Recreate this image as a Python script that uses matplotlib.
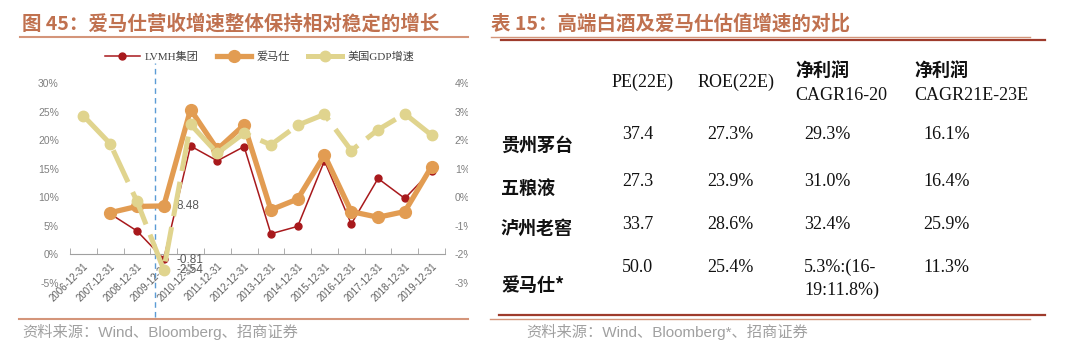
import matplotlib
matplotlib.use("Agg")
import matplotlib.pyplot as plt
import numpy as np
from matplotlib.lines import Line2D
from matplotlib.transforms import Bbox, TransformedBbox

# ---- chart data (left panel) ----
years = ['2006-12-31', '2007-12-31', '2008-12-31', '2009-12-31', '2010-12-31',
         '2011-12-31', '2012-12-31', '2013-12-31', '2014-12-31', '2015-12-31',
         '2016-12-31', '2017-12-31', '2018-12-31', '2019-12-31']
lvmh = [np.nan, 7.1, 4.1, -0.81, 19.0, 16.4, 18.9, 3.6, 4.9, 16.4, 5.3, 13.3, 9.8, 14.7]
hermes = [np.nan, 7.3, 8.4, 8.48, 25.4, 18.4, 22.7, 7.8, 9.7, 17.4, 7.5, 6.5, 7.5, 15.4]
us_gdp = [2.86, 1.88, -0.14, -2.54, 2.56, 1.55, 2.25, 1.84, 2.53, 2.91, 1.64, 2.37, 2.93, 2.18]
left_ticks = [-5, 0, 5, 10, 15, 20, 25, 30]
right_ticks = [-3, -2, -1, 0, 1, 2, 3, 4]
marked_idx = 3  # 2009, values written next to the points

# ---- table data (right panel) ----
col_heads = ['PE(22E)', 'ROE(22E)', '净利润\nCAGR16-20', '净利润\nCAGR21E-23E']
companies = ['贵州茅台', '五粮液', '泸州老窖', '爱马仕*']
pe = ['37.4', '27.3', '33.7', '50.0']
roe = ['27.3%', '23.9%', '28.6%', '25.4%']
cagr_16_20 = ['29.3%', '31.0%', '32.4%', '5.3%:(16-\n19:11.8%)']
cagr_21_23 = ['16.1%', '16.4%', '25.9%', '11.3%']

W, H = 1080, 355
CJK = ['Noto Sans CJK SC', 'DejaVu Sans']
SERIF = ['Liberation Serif', 'Noto Sans CJK SC']
SANS = ['Liberation Sans', 'Noto Sans CJK SC']
TITLE_C = '#c0714f'
LINE_LIGHT = '#d4957a'
LINE_DARK = '#9e3b2c'

c_lvmh = '#a8191c'
c_hermes = '#e29c52'
c_gdp = '#e0d48e'


def fx(px):
    return px / W


def fy(py):
    return 1 - py / H


fig = plt.figure(figsize=(W / 100, H / 100), dpi=100)

# ---- headers, rules and sources ----
fig.text(fx(22), fy(24), '图 45：爱马仕营收增速整体保持相对稳定的增长', family=CJK,
         fontsize=14, fontweight='bold', color=TITLE_C, va='center', ha='left')
fig.text(fx(491), fy(24), '表 15：高端白酒及爱马仕估值增速的对比', family=CJK,
         fontsize=14, fontweight='bold', color=TITLE_C, va='center', ha='left')

def hline(x0, x1, y, color, lw):
    fig.add_artist(Line2D([fx(x0), fx(x1)], [fy(y), fy(y)], color=color, lw=lw,
                          transform=fig.transFigure))

hline(20, 468, 37, LINE_LIGHT, 1.5)
hline(491, 1030, 36.5, LINE_LIGHT, 1.0)
hline(501, 1045, 39.5, LINE_DARK, 1.6)
hline(19, 468, 318.5, LINE_LIGHT, 1.5)
hline(499, 1045, 315, LINE_DARK, 1.6)
hline(490, 1030, 318.5, LINE_LIGHT, 1.0)

fig.text(fx(22), fy(332), '资料来源：Wind、Bloomberg、招商证券', family=SANS,
         fontsize=11, color='#a0a0a0', va='center', ha='left')
fig.text(fx(526), fy(332), '资料来源：Wind、Bloomberg*、招商证券', family=SANS,
         fontsize=11, color='#a0a0a0', va='center', ha='left')

# ---- left chart ----
ax_l, ax_r, ax_t, ax_b = 70, 445, 83.3, 282.8
ax = fig.add_axes([fx(ax_l), fy(ax_b), (ax_r - ax_l) / W, (ax_b - ax_t) / H])
x = np.arange(len(years))

ax.plot(x, lvmh, color=c_lvmh, lw=1.1, marker='o', ms=5, zorder=2)
ax.plot(x, hermes, color=c_hermes, lw=3.8, marker='o', ms=8.5, zorder=3)
ax.set_xlim(-0.5, len(years) - 0.5)
ax.set_ylim(left_ticks[0], left_ticks[-1])
ax.set_yticks(left_ticks, labels=[f'{t}%' for t in left_ticks])
ax.set_xticks(x, labels=years)
ax.set_xticks(np.arange(len(years) + 1) - 0.5, minor=True)
ax.tick_params(axis='x', which='major', length=0, pad=5, labelsize=7,
               labelcolor='#606060', labelrotation=45)
ax.tick_params(axis='x', which='minor', direction='in', length=4, color='#a0a0a0')
ax.tick_params(axis='y', length=0, pad=8, labelsize=7.5, labelcolor='#808080')
for s in ['top', 'left', 'right']:
    ax.spines[s].set_visible(False)
ax.spines['bottom'].set_position(('data', 0))
ax.spines['bottom'].set_color('#a0a0a0')
ax.patch.set_visible(False)

# crosshair-like dashed marker line
ax.axvline(2.67, ymin=-0.17, ymax=1.1, color='#5b9bd5', lw=1, ls=(0, (4, 3)),
           clip_on=False, zorder=1)

ax2 = ax.twinx()
ax2.plot(x, us_gdp, color=c_gdp, lw=3.6, marker='o', ms=7.5,
         dashes=(7, 2.2), dash_capstyle='butt', zorder=4)
ax2.set_ylim(right_ticks[0], right_ticks[-1])
ax2.set_yticks(right_ticks, labels=[f'{t}%' for t in right_ticks])
ax2.tick_params(axis='y', length=0, pad=7, labelsize=7.5, labelcolor='#808080')
for s in ax2.spines.values():
    s.set_visible(False)
clip = TransformedBbox(Bbox.from_extents(0, 0, fx(468), 1), fig.transFigure)
for tk in ax2.yaxis.get_major_ticks():
    tk.label2.set_family(SANS)
    tk.label2.set_clip_box(clip)
    tk.label2.set_clip_on(True)
for tk in ax.xaxis.get_major_ticks():
    tk.label1.set_family(SANS)
    tk.label1.set_horizontalalignment('right')
    tk.label1.set_rotation_mode('anchor')
for tk in ax.yaxis.get_major_ticks():
    tk.label1.set_family(SANS)

ann = dict(textcoords='offset points', fontsize=8.5, color='#595959',
           va='center', ha='left', family=SANS)
ax.annotate(f'{hermes[marked_idx]:.2f}', (x[marked_idx], hermes[marked_idx]),
            xytext=(9, 0), zorder=6, **ann)
ax.annotate(f'{lvmh[marked_idx]:.2f}', (x[marked_idx], lvmh[marked_idx]),
            xytext=(9, -1), zorder=6, **ann)
ax2.annotate(f'{us_gdp[marked_idx]:.2f}', (x[marked_idx], us_gdp[marked_idx]),
             xytext=(9, 0), zorder=6, **ann)

handles = [Line2D([], [], color=c_lvmh, lw=1.1, marker='o', ms=5),
           Line2D([], [], color=c_hermes, lw=3.8, marker='o', ms=8.5),
           Line2D([], [], color=c_gdp, lw=3.6, marker='o', ms=7.5)]
fig.legend(handles, ['LVMH集团', '爱马仕', '美国GDP增速'], loc='center',
           bbox_to_anchor=(fx(260), fy(57)), ncol=3, frameon=False,
           prop={'family': SERIF, 'size': 8}, labelcolor='#404040',
           handlelength=3.1, handletextpad=0.5, columnspacing=1.6)

# ---- right table ----
head_x = [612, 698, 795, 914]
val_x = [622, 707, 804, 923]
row_label_x = 501
row_label_y = [145, 188, 228, 285]
row_val_y = [135, 182, 224, 267]
TXT = '#111111'

for hx, head in zip(head_x, col_heads):
    if '\n' in head:
        top, bottom = head.split('\n')
        fig.text(fx(hx), fy(70), top, family=CJK, fontsize=13, fontweight='bold',
                 color=TXT, va='center', ha='left')
        fig.text(fx(hx), fy(95), bottom, family=SERIF, fontsize=13,
                 color=TXT, va='center', ha='left')
    else:
        fig.text(fx(hx), fy(82), head, family=SERIF, fontsize=13,
                 color=TXT, va='center', ha='left')

for i, name in enumerate(companies):
    fig.text(fx(row_label_x), fy(row_label_y[i]), name, family=CJK, fontsize=13,
             fontweight='bold', color=TXT, va='center', ha='left')
    for vx, col in zip(val_x, [pe, roe, cagr_16_20, cagr_21_23]):
        parts = col[i].split('\n')
        for k, p in enumerate(parts):
            fig.text(fx(vx), fy(row_val_y[i] + k * 23), p, family=SERIF,
                     fontsize=13, color=TXT, va='center', ha='left')

fig.savefig('out.png', dpi=100)
